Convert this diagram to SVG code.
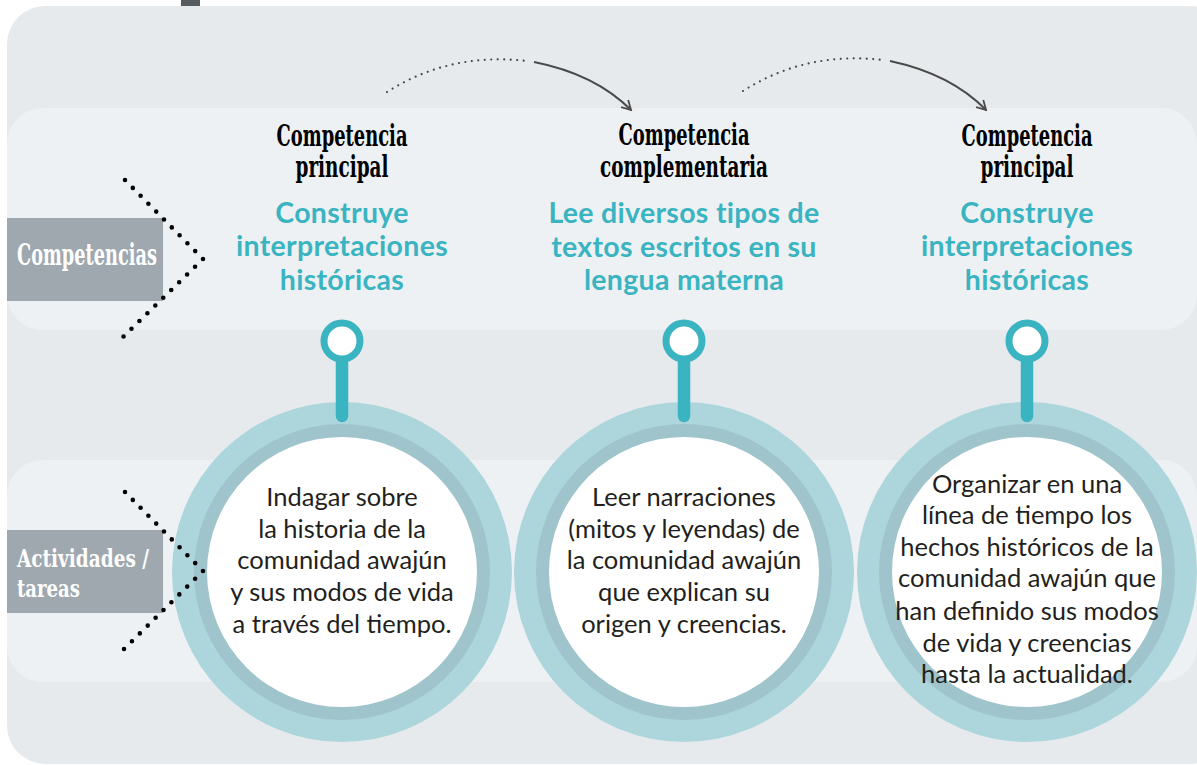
<svg xmlns="http://www.w3.org/2000/svg" width="1197" height="765" viewBox="0 0 1197 765">
<defs>
<style>
.hdr{font-family:"DejaVu Serif","Liberation Serif",serif;font-weight:bold;font-size:29px;fill:#000;text-anchor:middle}
.lbl{font-family:"DejaVu Serif","Liberation Serif",serif;font-weight:bold;font-size:29px;fill:#fff}
.lbl2{font-family:"DejaVu Serif","Liberation Serif",serif;font-weight:bold;font-size:25px;fill:#fff}
.teal{font-family:Lato,"Open Sans",sans-serif;font-weight:bold;font-size:28.5px;letter-spacing:0.3px;fill:#3ab4c1;text-anchor:middle}
.body{font-family:Lato,"Noto Sans",sans-serif;font-size:25.5px;fill:#231f20;text-anchor:middle}
.chev{fill:none;stroke:#000;stroke-width:4.6;stroke-linecap:round;stroke-dasharray:0 11.1}
.dot{fill:none;stroke:#444;stroke-width:2.2;stroke-linecap:round;stroke-dasharray:0 6.5}
.sol{fill:none;stroke:#4a4a4a;stroke-width:2}
.pin{fill:#fff;stroke:#3ab4c1;stroke-width:7}
.stem{stroke:#3ab4c1;stroke-width:12.5;stroke-linecap:round}
</style>
<marker id="ah" viewBox="0 0 12 12" refX="10" refY="6" markerWidth="12" markerHeight="12" markerUnits="userSpaceOnUse" orient="auto">
<path d="M1,1 L10,6 L1,11" fill="none" stroke="#4a4a4a" stroke-width="1.8"/>
</marker>
<g id="ring">
<circle r="170" fill="#acd6dc"/>
<circle r="148" fill="#9fc4cc"/>
<circle r="135" fill="#fff"/>
</g>
</defs>

<rect x="181" y="0" width="19" height="7" fill="#555b60"/>
<rect x="7" y="6" width="1220" height="758" rx="38" fill="#e7eaed"/>
<rect x="7" y="108" width="1190" height="222" rx="36" fill="#eef1f4"/>
<rect x="7" y="460" width="1190" height="222" rx="36" fill="#eef1f4"/>

<g id="label-competencias">
<rect x="7" y="218" width="156" height="83" fill="#9ea8ae"/>
<text class="lbl" x="17" y="265" textLength="140" lengthAdjust="spacingAndGlyphs">Competencias</text>
</g>
<g id="label-actividades">
<rect x="7" y="530" width="156" height="83" fill="#9ea8ae"/>
<text class="lbl2" x="17" y="567" textLength="132" lengthAdjust="spacingAndGlyphs">Actividades /</text>
<text class="lbl2" x="17" y="597" textLength="63" lengthAdjust="spacingAndGlyphs">tareas</text>
</g>

<g id="col1">
<text class="hdr" x="342" y="146" textLength="131" lengthAdjust="spacingAndGlyphs">Competencia</text>
<text class="hdr" x="342" y="177" textLength="93" lengthAdjust="spacingAndGlyphs">principal</text>
<text class="teal" x="342" y="223">Construye</text>
<text class="teal" x="342" y="256">interpretaciones</text>
<text class="teal" x="342" y="290">históricas</text>
<use href="#ring" x="342" y="572"/>
<line class="stem" x1="342" y1="360" x2="342" y2="416"/>
<circle class="pin" cx="342" cy="341" r="18"/>
<text class="body" x="342" y="506">Indagar sobre</text>
<text class="body" x="342" y="538">la historia de la</text>
<text class="body" x="342" y="569">comunidad awajún</text>
<text class="body" x="342" y="601">y sus modos de vida</text>
<text class="body" x="342" y="633">a través del tiempo.</text>
</g>

<g id="col2">
<text class="hdr" x="684" y="145" textLength="131" lengthAdjust="spacingAndGlyphs">Competencia</text>
<text class="hdr" x="684" y="177" textLength="168" lengthAdjust="spacingAndGlyphs">complementaria</text>
<text class="teal" x="684" y="223">Lee diversos tipos de</text>
<text class="teal" x="684" y="257">textos escritos en su</text>
<text class="teal" x="684" y="290">lengua materna</text>
<use href="#ring" x="684" y="572"/>
<line class="stem" x1="684" y1="360" x2="684" y2="416"/>
<circle class="pin" cx="684" cy="341" r="18"/>
<text class="body" x="684" y="506">Leer narraciones</text>
<text class="body" x="684" y="538">(mitos y leyendas) de</text>
<text class="body" x="684" y="569">la comunidad awajún</text>
<text class="body" x="684" y="601">que explican su</text>
<text class="body" x="684" y="633">origen y creencias.</text>
</g>

<g id="col3">
<text class="hdr" x="1027" y="146" textLength="131" lengthAdjust="spacingAndGlyphs">Competencia</text>
<text class="hdr" x="1027" y="177" textLength="93" lengthAdjust="spacingAndGlyphs">principal</text>
<text class="teal" x="1027" y="223">Construye</text>
<text class="teal" x="1027" y="256">interpretaciones</text>
<text class="teal" x="1027" y="290">históricas</text>
<use href="#ring" x="1027" y="572"/>
<line class="stem" x1="1027" y1="360" x2="1027" y2="416"/>
<circle class="pin" cx="1027" cy="341" r="18"/>
<text class="body" x="1027" y="493">Organizar en una</text>
<text class="body" x="1027" y="524">línea de tiempo los</text>
<text class="body" x="1027" y="556">hechos históricos de la</text>
<text class="body" x="1027" y="587">comunidad awajún que</text>
<text class="body" x="1027" y="620">han definido sus modos</text>
<text class="body" x="1027" y="652">de vida y creencias</text>
<text class="body" x="1027" y="683">hasta la actualidad.</text>
</g>

<g id="connectors">
<path class="chev" d="M125,180 L203,259 L123,337"/>
<path class="chev" d="M125,492 L203,571 L123,650"/>
<path class="dot" d="M387,92 Q450,52 527,61"/>
<path class="sol" d="M534,62 Q595,74 631,110" marker-end="url(#ah)"/>
<path class="dot" d="M743,91 Q806,51 883,60"/>
<path class="sol" d="M890,61 Q951,74 986,110" marker-end="url(#ah)"/>
</g>
</svg>
